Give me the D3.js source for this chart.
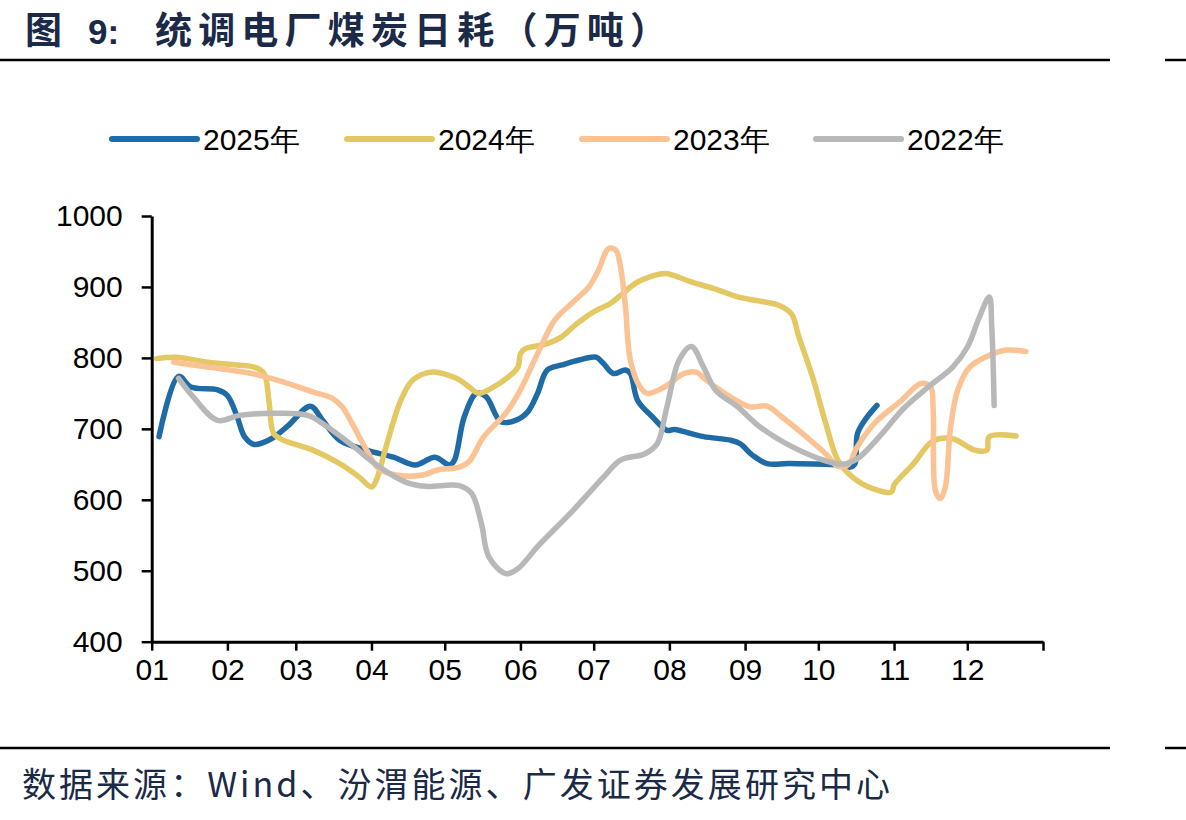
<!DOCTYPE html>
<html><head><meta charset="utf-8">
<script src="https://cdn.jsdelivr.net/npm/d3@7"></script>
<style>body{margin:0;background:#fff}svg{display:block}</style>
</head><body>
<svg id="chart" width="1186" height="820"></svg>
<script>
// ---- data (month-day, value in 万吨) ----
const seriesNames = ["2025年", "2024年", "2023年", "2022年"];
const seriesColors = ["#1f6ba6", "#e4c864", "#fbc394", "#b8b8b8"];

const dates2025 = ["01-04","01-12","01-17","01-28","02-01","02-05","02-08","02-12","02-19","02-26","03-07","03-12","03-19","03-30","04-10","04-19","04-27","05-03","05-05","05-09","05-14","05-18","05-24","05-30","06-04","06-08","06-12","06-18","06-25","07-02","07-05","07-09","07-14","07-16","07-19","07-25","07-31","08-03","08-15","08-26","08-30","09-04","09-10","09-19","10-10","10-14","10-16","10-17","10-20","10-25"];
const values2025 = [689,774,759,755,747,717,689,678,686,705,732,712,684,670,660,649,660,649,656,717,750,745,710,712,724,750,783,790,797,801,792,778,783,778,740,717,698,699,689,684,679,663,651,651,649,646,651,693,712,733];

const dates2024 = ["01-03","01-11","01-24","02-05","02-12","02-16","02-18","02-20","02-24","03-08","03-19","03-27","04-01","04-03","04-07","04-13","04-18","04-26","05-02","05-07","05-11","05-15","05-20","05-27","05-31","06-01","06-03","06-12","06-18","06-24","07-01","07-08","07-12","07-19","07-30","08-03","08-10","08-19","08-29","09-07","09-15","09-20","09-23","09-29","10-04","10-09","10-15","10-23","10-31","11-01","11-09","11-17","11-25","12-04","12-09","12-10","12-21"];
const values2024 = [799,801,794,790,787,778,740,693,684,670,651,632,618,628,675,740,769,780,776,769,759,750,757,773,787,806,813,820,830,848,865,877,888,907,919,916,907,898,886,880,874,862,830,769,708,656,632,616,611,621,651,683,686,670,670,689,690];

const dates2023 = ["01-10","01-24","02-11","02-24","03-08","03-16","03-20","03-24","03-30","04-04","04-11","04-22","04-28","05-07","05-11","05-17","05-26","06-01","06-08","06-15","06-22","06-29","07-03","07-07","07-10","07-12","07-14","07-16","07-20","07-23","07-30","08-07","08-12","08-16","08-26","09-03","09-10","09-16","09-26","10-04","10-09","10-13","10-17","10-24","11-04","11-12","11-16","11-17","11-18","11-20","11-22","11-24","11-27","12-02","12-09","12-17","12-25"];
const values2023 = [794,787,778,766,752,743,731,708,670,644,635,635,642,646,654,689,722,755,806,853,877,900,924,954,952,928,872,797,759,750,759,778,780,769,745,731,732,717,689,665,647,649,675,708,740,764,759,730,612,602,618,698,754,787,802,811,809];

const dates2022 = ["01-12","01-18","01-28","02-06","02-20","03-06","03-13","03-24","04-04","04-15","04-23","05-07","05-12","05-16","05-19","05-26","05-31","06-08","06-22","07-05","07-12","07-22","07-27","07-31","08-05","08-10","08-15","08-20","08-29","09-07","09-19","10-03","10-11","10-17","10-26","11-05","11-15","11-25","12-01","12-06","12-10","12-11","12-12"];
const values2022 = [771,745,712,719,722,719,705,677,647,625,619,620,609,567,520,496,503,534,583,632,656,665,679,731,797,816,787,754,731,703,677,656,650,658,689,729,759,787,815,858,886,845,733];

const monthLabels = ["01","02","03","04","05","06","07","08","09","10","11","12"];
const yTicks = [400, 500, 600, 700, 800, 900, 1000];

const titleText = "统调电厂煤炭日耗（万吨）";
const sourceText = "数据来源：Wind、汾渭能源、广发证券发展研究中心";

// ---- build ----
const svg = d3.select("#chart");
const navy = "#1b2a47";
const parse = d3.timeParse("%Y-%m-%d");
const toDate = md => parse("2023-" + md);

const x = d3.scaleTime()
  .domain([new Date(2023, 0, 1), new Date(2024, 0, 1)])
  .range([151.7, 1043]);
const y = d3.scaleLinear().domain([400, 1000]).range([641.7, 216]);

// title
svg.append("text").attr("x", 25).attr("y", 44)
  .style("font-family", "'Noto Sans CJK SC'").style("font-weight", 700)
  .style("font-size", "37px").attr("fill", navy).text("图");
svg.append("text").attr("x", 88).attr("y", 44)
  .style("font-family", "'Liberation Sans', Arial").style("font-weight", 700)
  .style("font-size", "35px").attr("fill", navy).text("9:");
svg.append("text").attr("x", 155).attr("y", 44)
  .attr("textLength", 512).attr("lengthAdjust", "spacing")
  .style("font-family", "'Noto Sans CJK SC'").style("font-weight", 700)
  .style("font-size", "37px").attr("fill", navy).text(titleText);

// rules
const rule = (x1, x2, yy) => svg.append("line").attr("x1", x1).attr("x2", x2)
  .attr("y1", yy).attr("y2", yy).attr("stroke", "#000").attr("stroke-width", 2.5);
rule(0, 1110, 60); rule(1165, 1186, 60);
rule(0, 1110, 748); rule(1165, 1186, 748);

// source
svg.append("text").attr("x", 22).attr("y", 797)
  .attr("textLength", 868).attr("lengthAdjust", "spacing")
  .style("font-family", "'Noto Sans CJK SC'").style("font-size", "34px")
  .attr("fill", navy).text(sourceText);

// axes
const xTickVals = d3.timeMonth.range(new Date(2023, 0, 1), new Date(2024, 0, 2));
const xAxis = d3.axisBottom(x).tickValues(xTickVals)
  .tickFormat((d, i) => i < monthLabels.length ? monthLabels[i] : "")
  .tickSize(9).tickSizeOuter(0).tickPadding(8);
const gx = svg.append("g").attr("transform", `translate(0,${y(400)})`).call(xAxis);
gx.select(".domain").attr("stroke-width", 3);
gx.selectAll(".tick line").attr("stroke-width", 2.5);
gx.selectAll("text").style("font-family", "'Liberation Sans', Arial")
  .style("font-size", "30px").attr("fill", "#000");

const yAxis = d3.axisLeft(y).tickValues(yTicks).tickFormat(d3.format("d"))
  .tickSize(10).tickSizeOuter(0).tickPadding(19);
const gy = svg.append("g").attr("transform", `translate(${x.range()[0]},0)`).call(yAxis);
gy.select(".domain").attr("stroke-width", 3);
gy.selectAll(".tick line").attr("stroke-width", 2.5);
gy.selectAll("text").style("font-family", "'Liberation Sans', Arial")
  .style("font-size", "30px").attr("fill", "#000");

// lines
const allSeries = [
  {dates: dates2025, values: values2025},
  {dates: dates2024, values: values2024},
  {dates: dates2023, values: values2023},
  {dates: dates2022, values: values2022}
];
const line = d3.line().x(d => x(d.date)).y(d => y(d.value))
  .curve(d3.curveCatmullRom.alpha(0.5));
allSeries.forEach((s, i) => {
  const pts = s.dates.map((md, j) => ({date: toDate(md), value: s.values[j]}));
  svg.append("path").datum(pts).attr("d", line)
    .attr("fill", "none").attr("stroke", seriesColors[i])
    .attr("stroke-width", 5.5).attr("stroke-linecap", "round").attr("stroke-linejoin", "round");
});

// legend
const legendX = [112, 347, 582, 816];
seriesNames.forEach((name, i) => {
  const g = svg.append("g").attr("transform", `translate(${legendX[i]},139)`);
  g.append("line").attr("x1", 0).attr("x2", 85).attr("y1", 0).attr("y2", 0)
    .attr("stroke", seriesColors[i]).attr("stroke-width", 6).attr("stroke-linecap", "round");
  g.append("text").attr("x", 91).attr("y", 11)
    .style("font-family", "'Liberation Sans', Arial").style("font-size", "30px")
    .attr("fill", "#000").text(name);
});
</script>
</body></html>
